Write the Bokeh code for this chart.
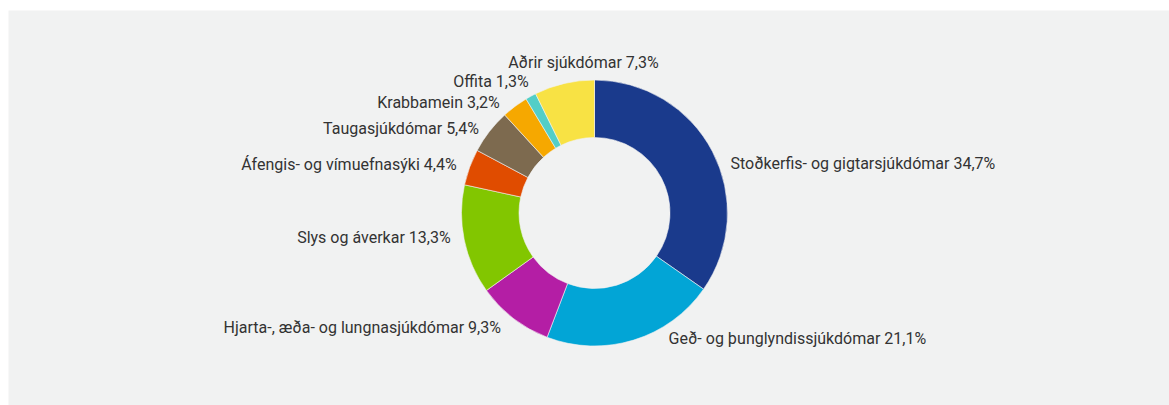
import numpy as np
from bokeh.plotting import figure
from bokeh.models import ColumnDataSource, Range1d
from bokeh.core.properties import value
from bokeh.embed import file_html
from bokeh.resources import INLINE

categories = [
    "Stoðkerfis- og gigtarsjúkdómar",
    "Geð- og þunglyndissjúkdómar",
    "Hjarta-, æða- og lungnasjúkdómar",
    "Slys og áverkar",
    "Áfengis- og vímuefnasýki",
    "Taugasjúkdómar",
    "Krabbamein",
    "Offita",
    "Aðrir sjúkdómar",
]
shares = [34.7, 21.1, 9.3, 13.3, 4.4, 5.4, 3.2, 1.3, 7.3]
colors = ["#1a3a8c", "#02a5d6", "#b41ea5", "#82c600", "#e04c00",
          "#7d6a4f", "#f6a800", "#52cec7", "#f8e244"]

W, H = 1169, 405
LEFT, TOP = 8, 10
p = figure(width=W, height=H, output_backend="svg", toolbar_location=None,
           x_range=Range1d(0, W - LEFT), y_range=Range1d(0, H - TOP),
           min_border=0, min_border_left=LEFT, min_border_top=TOP)
p.border_fill_color = "white"
p.background_fill_color = "#f1f2f2"
p.outline_line_color = None
p.axis.visible = False
p.grid.visible = False

cx, cy = 586, 192.5
r_out, r_in = 133, 75.5

vals = np.array(shares, dtype=float)
frac = vals / vals.sum()
cum_end = np.cumsum(frac)
cum_start = cum_end - frac
start = np.pi / 2 - 2 * np.pi * cum_end
end = np.pi / 2 - 2 * np.pi * cum_start
mid = (start + end) / 2

src = ColumnDataSource(dict(start=start, end=end, color=colors))
p.annular_wedge(x=cx, y=cy, inner_radius=r_in, outer_radius=r_out,
                start_angle="start", end_angle="end", direction="anticlock",
                fill_color="color", line_color="#f1f2f2", line_width=0.6,
                source=src)

# label placement: radial at fixed distance, with small nudges (pixels)
R_lab = 150
nudge_x = [3, 30, -2, 3, 3, 3, -5, 6, 23]
nudge_y = [-20, 18, 4, 6, -3, -7, -10, 0, 4]
align = []
for m in mid:
    if abs(np.cos(m)) < 0.25 and np.sin(m) > 0:
        align.append("center")
    elif np.cos(m) >= 0:
        align.append("left")
    else:
        align.append("right")

labels = [f"{c} {str(v).replace('.', ',')}%" for c, v in zip(categories, shares)]
lx = cx + R_lab * np.cos(mid) + np.array(nudge_x)
ly = cy + R_lab * np.sin(mid) + np.array(nudge_y)
lsrc = ColumnDataSource(dict(x=lx, y=ly, text=labels, align=align))
p.text(x="x", y="y", text="text", text_align="align", text_baseline="middle",
       text_font=value("Roboto"), text_font_size="16px", text_color="#333333",
       source=lsrc)

open("out.html", "w").write(file_html(p, INLINE))
